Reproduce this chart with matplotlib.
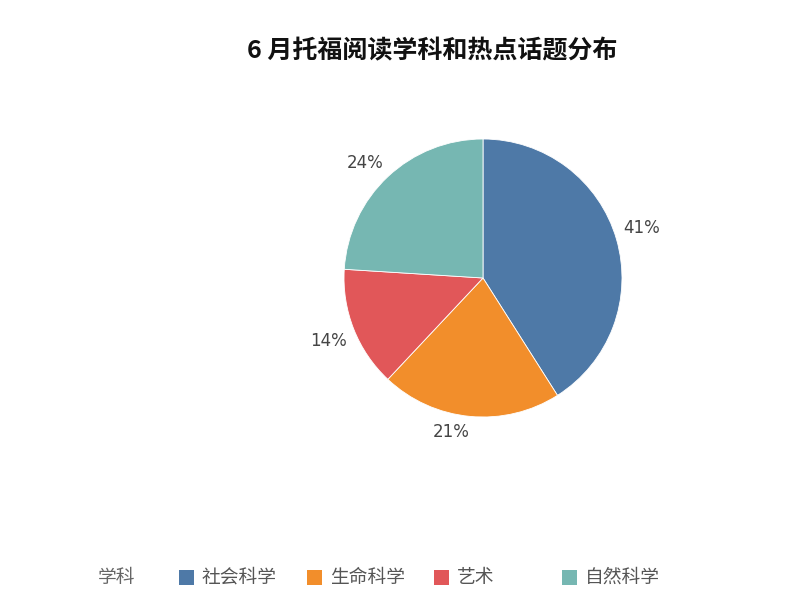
import matplotlib
matplotlib.use("Agg")
import matplotlib.pyplot as plt
import numpy as np
from matplotlib.patches import Rectangle

plt.rcParams["font.family"] = ["Noto Sans CJK SC", "DejaVu Sans"]

TITLE = "6 月托福阅读学科和热点话题分布"
LEGEND_TITLE = "学科"
categories = ["社会科学", "生命科学", "艺术", "自然科学"]
values = [41, 21, 14, 24]
colors = ["#4e79a7", "#f28e2b", "#e15759", "#76b7b2"]
# legend square left edges (pixels)
legend_x = [179, 307, 434, 562]

W, H = 804, 607
fig = plt.figure(figsize=(W / 100, H / 100), dpi=100)

cx, cy, R = 483, 278, 139
half = 1.4 * R
ax = fig.add_axes([(cx - half) / W, (H - cy - half) / H, 2 * half / W, 2 * half / H])
wedges, _ = ax.pie(values, colors=colors, startangle=90, counterclock=False,
                   wedgeprops=dict(edgecolor="white", linewidth=0.6))

# percent labels just outside the rim, anchored by side like the original
total = sum(values)
for w, v in zip(wedges, values):
    mid = np.deg2rad((w.theta1 + w.theta2) / 2)
    x, y = 1.05 * np.cos(mid), 1.05 * np.sin(mid)
    ax.text(x, y, f"{round(100 * v / total)}%",
            ha="left" if x > 0 else "right",
            va="bottom" if y > 0 else "top",
            fontsize=12, color="#444444", family="DejaVu Sans")

ax.set_xlim(-1.4, 1.4)
ax.set_ylim(-1.4, 1.4)
ax.set_aspect("equal")
ax.axis("off")

fig.text(432 / W, 1 - 51 / H, TITLE, ha="center", va="center",
         fontsize=18, fontweight="bold", color="#111111")

ly = 577
fig.text(98 / W, 1 - ly / H, LEGEND_TITLE, ha="left", va="center",
         fontsize=13.5, color="#666666")
sq = 15
for name, col, x in zip(categories, colors, legend_x):
    fig.patches.append(Rectangle((x / W, (H - ly - sq / 2) / H), sq / W, sq / H,
                                 transform=fig.transFigure, facecolor=col,
                                 edgecolor="none"))
    fig.text((x + 23) / W, 1 - ly / H, name, ha="left", va="center",
             fontsize=13.5, color="#555555")

fig.savefig("out.png", dpi=100)
